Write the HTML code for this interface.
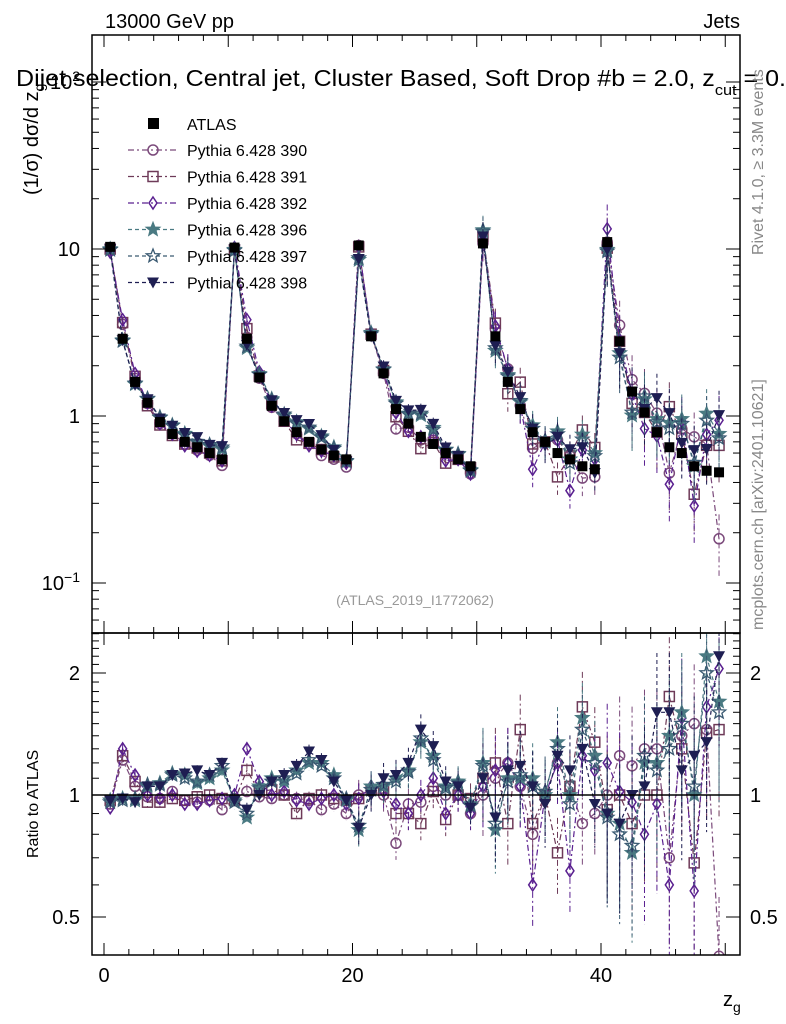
<!DOCTYPE html>
<html><head><meta charset="utf-8"><style>
body{margin:0;background:#fff;}
svg{display:block;font-family:"Liberation Sans",sans-serif;}
</style></head><body>
<svg id="chart" width="786" height="1024" viewBox="0 0 786 1024">
<defs>
<clipPath id="cm"><rect x="92" y="35" width="648" height="598"/></clipPath>
<clipPath id="cr"><rect x="92" y="633" width="648" height="322"/></clipPath>
</defs>
<g id="main" clip-path="url(#cm)"></g>
<g id="ratio" clip-path="url(#cr)"></g>
<g id="axes"></g>
<text x="105" y="28" font-size="20">13000 GeV pp</text>
<text x="740" y="28" font-size="20" text-anchor="end">Jets</text>
<text x="16" y="86" font-size="23" textLength="770" lengthAdjust="spacingAndGlyphs">Dijet selection, Central jet, Cluster Based, Soft Drop #b = 2.0, z<tspan font-size="15" dy="9">cut</tspan><tspan dy="-9"> = 0.</tspan></text>
<text transform="translate(38,195) rotate(-90)" font-size="20">(1/σ) dσ/d z<tspan font-size="14" dy="6">g</tspan></text>
<text transform="translate(38,858) rotate(-90)" font-size="16">Ratio to ATLAS</text>
<text x="723" y="1006" font-size="20">z<tspan font-size="14" dy="6">g</tspan></text>
<text transform="translate(763,255) rotate(-90)" font-size="16" fill="#888">Rivet 4.1.0, ≥ 3.3M events</text>
<text transform="translate(763,630) rotate(-90)" font-size="16" fill="#888">mcplots.cern.ch [arXiv:2401.10621]</text>
<text x="415" y="605" font-size="14" fill="#999" text-anchor="middle">(ATLAS_2019_I1772062)</text>
<g id="legend"></g>
</svg>
<script>
const atlas=[10.3,2.9,1.6,1.2,0.92,0.78,0.7,0.65,0.6,0.55,
10.2,2.9,1.7,1.15,0.93,0.8,0.7,0.63,0.58,0.55,
10.5,3.0,1.8,1.1,0.9,0.75,0.68,0.6,0.55,0.5,
10.8,3.0,1.6,1.1,0.8,0.7,0.6,0.55,0.5,0.48,
11.0,2.8,1.4,1.05,0.8,0.65,0.6,0.5,0.47,0.46];
const r390=[0.95,1.22,1.05,0.99,0.98,1.02,0.97,0.96,0.97,0.92,0.98,1.02,0.99,0.98,1.0,0.98,0.97,0.92,0.95,0.9,1.0,1.02,1.0,0.76,0.95,0.96,1.05,1.0,1.0,0.9,1.0,1.1,1.2,1.05,0.8,1.0,1.2,1.05,0.85,0.9,1.0,1.25,1.18,1.3,1.3,0.7,1.4,1.5,1.45,0.4];
const r391=[0.97,1.25,1.08,0.96,0.96,0.98,0.97,0.99,1.0,0.98,0.97,1.15,1.02,1.03,1.0,0.9,0.98,1.0,0.98,0.97,0.98,1.03,1.04,0.9,0.9,0.85,1.02,0.87,1.0,0.98,1.1,1.2,0.85,1.45,0.85,1.0,0.72,1.05,1.65,1.35,0.92,1.0,0.85,1.0,1.0,1.75,1.3,0.68,1.42,1.45];
const r392=[0.93,1.3,1.12,1.0,0.98,1.0,0.95,0.95,0.97,0.98,1.0,1.3,1.08,1.0,1.02,0.97,0.95,0.98,1.0,0.95,0.98,1.05,1.02,0.95,0.9,1.0,1.1,0.9,1.0,0.9,1.05,1.15,1.2,1.05,0.6,1.0,1.2,0.65,1.25,1.15,1.2,1.02,0.96,0.8,0.95,0.6,1.55,0.58,1.65,2.05];
const r396=[0.97,0.98,0.97,1.05,1.07,1.13,1.12,1.07,1.1,1.15,0.97,0.88,1.05,1.1,1.08,1.15,1.2,1.2,1.12,0.97,0.82,1.05,1.05,1.1,1.15,1.35,1.25,1.05,1.08,0.95,1.2,0.82,1.1,1.1,1.1,1.0,1.35,1.0,1.55,1.25,0.9,0.85,0.72,1.2,1.2,1.4,1.6,1.0,2.2,1.7];
const r397=[0.96,0.97,0.98,1.06,1.06,1.12,1.1,1.08,1.12,1.18,0.96,0.9,1.04,1.08,1.1,1.13,1.22,1.18,1.1,0.98,0.84,1.03,1.06,1.08,1.14,1.38,1.22,1.04,1.07,0.94,1.18,0.85,1.08,1.12,1.05,1.02,1.3,0.95,1.45,1.2,0.88,0.8,0.75,1.25,1.15,1.3,1.5,1.05,2.0,1.6];
const r398=[0.97,0.98,0.96,1.05,1.05,1.12,1.13,1.15,1.12,1.2,0.97,0.92,1.0,1.08,1.12,1.18,1.28,1.22,1.08,0.97,0.83,1.0,1.1,1.12,1.2,1.45,1.32,1.08,1.05,0.93,1.1,0.88,1.15,1.18,1.05,0.95,1.25,1.15,1.3,0.95,0.9,0.85,1.0,1.05,1.6,1.6,1.15,1.25,1.35,2.2];
const segErr=[0.03,0.04,0.09,0.22,0.4];
const names=["Pythia 6.428 390","Pythia 6.428 391","Pythia 6.428 392","Pythia 6.428 396","Pythia 6.428 397","Pythia 6.428 398"];
const xTicks=[0,20,40];

const NS="http://www.w3.org/2000/svg";
function X(v){return 104+12.425*v;}
function Y(v){return 249-167*(Math.log10(v)-1);}
function R(v){return 795-122*Math.log2(v);}
function mk(tag,at,par){const e=document.createElementNS(NS,tag);for(const k in at)e.setAttribute(k,at[k]);par.appendChild(e);return e;}
const main=document.getElementById('main'),ratio=document.getElementById('ratio'),axes=document.getElementById('axes'),leg=document.getElementById('legend');
const series=[
{r:r390,c:"#7b4a7b",m:"circle",d:"6,3,2,3"},
{r:r391,c:"#6e3a58",m:"square",d:"6,3,2,3"},
{r:r392,c:"#5a2090",m:"diamond",d:"6,3,2,3"},
{r:r396,c:"#4a7a82",m:"starf",d:"4,3"},
{r:r397,c:"#3a5a72",m:"staro",d:"4,3"},
{r:r398,c:"#1e1e52",m:"tri",d:"4,3"}];
function marker(p,x,y,s){
 let e;
 if(s.m==="circle")e=mk('circle',{cx:x,cy:y,r:5,fill:'none',stroke:s.c,'stroke-width':1.5},p);
 else if(s.m==="square")e=mk('rect',{x:x-5,y:y-5,width:10,height:10,fill:'none',stroke:s.c,'stroke-width':1.5},p);
 else if(s.m==="diamond")e=mk('polygon',{points:`${x},${y-6} ${x+4},${y} ${x},${y+6} ${x-4},${y}`,fill:'none',stroke:s.c,'stroke-width':1.5},p);
 else if(s.m==="tri")e=mk('polygon',{points:`${x-6},${y-5} ${x+6},${y-5} ${x},${y+6}`,fill:s.c},p);
 else{let pts=[];for(let k=0;k<10;k++){const a=-Math.PI/2+k*Math.PI/5,rr=k%2?3:7;pts.push((x+rr*Math.cos(a)).toFixed(1)+','+(y+rr*Math.sin(a)).toFixed(1));}
  e=mk('polygon',{points:pts.join(' '),fill:s.m==="starf"?s.c:'none',stroke:s.c,'stroke-width':1.3},p);}
 return e;
}
series.forEach((s,si)=>{
 const gm=mk('g',{},main);
 const gr=mk('g',{},ratio);
 let pm=[],pr=[];
 atlas.forEach((a,i)=>{const v=a*s.r[i];pm.push(X(i+0.5).toFixed(1)+','+Y(v).toFixed(1));pr.push(X(i+0.5).toFixed(1)+','+R(s.r[i]).toFixed(1));});
 mk('polyline',{points:pm.join(' '),fill:'none',stroke:s.c,'stroke-width':1.2,'stroke-dasharray':s.d},gm);
 mk('polyline',{points:pr.join(' '),fill:'none',stroke:s.c,'stroke-width':1.2,'stroke-dasharray':s.d},gr);
 atlas.forEach((a,i)=>{
  const v=a*s.r[i],e=segErr[Math.floor(i/10)],x=X(i+0.5);
  mk('line',{x1:x,x2:x,y1:Y(v*(1+e)),y2:Y(Math.max(v*(1-e),1e-3)),stroke:s.c,'stroke-width':1,'stroke-dasharray':s.d},gm);
  mk('line',{x1:x,x2:x,y1:R(s.r[i]*(1+e)),y2:R(Math.max(s.r[i]*(1-e),1e-3)),stroke:s.c,'stroke-width':1,'stroke-dasharray':s.d},gr);
  const m1=marker(gm,x,Y(v),s);
  const m2=marker(gr,x,R(s.r[i]),s);
 });
});
const ga=mk('g',{},main);
atlas.forEach((a,i)=>{const r=mk('rect',{x:X(i+0.5)-5,y:Y(a)-5,width:10,height:10,fill:'#000'},ga);});
const rl=mk('line',{x1:92,x2:740,y1:R(1),y2:R(1),stroke:'#000','stroke-width':1.5},ratio);
[[35,598],[633,322]].forEach(([y,h])=>{const f=mk('rect',{x:92,y:y,width:648,height:h,fill:'none',stroke:'#000','stroke-width':1.5},axes);});
for(let v=0;v<=50;v+=2){const maj=v%10===0,L=maj?12:6;
 [[633,-1],[955,-1],[633,1],[35,1]].forEach(([y,d])=>{mk('line',{x1:X(v),x2:X(v),y1:y,y2:y+(d<0?-L:L),stroke:'#000','stroke-width':1},axes);});}
xTicks.forEach(v=>{const t=mk('text',{x:X(v),y:982,'font-size':20,'text-anchor':'middle'},axes);t.textContent=v;});
for(let d=-2;d<=2;d++)for(let k=1;k<10;k++){const v=k*Math.pow(10,d),y=Y(v);if(y<35||y>633)continue;const L=k===1?14:7;
 mk('line',{x1:92,x2:92+L,y1:y,y2:y,stroke:'#000'},axes);mk('line',{x1:740,x2:740-L,y1:y,y2:y,stroke:'#000'},axes);}
[["10",10],["1",1]].forEach(([s,v])=>{const t=mk('text',{x:80,y:Y(v)+7,'font-size':20,'text-anchor':'end'},axes);t.textContent=s;});
[[-1,0.1],[2,100]].forEach(([e,v])=>{const t=mk('text',{x:80,y:Y(v)+7,'font-size':20,'text-anchor':'end'},axes);t.innerHTML='10<tspan font-size="14" dy="-8">'+(e<0?'−1':'2')+'</tspan>';});
[0.4,0.5,0.6,0.7,0.8,0.9,1,1.1,1.2,1.3,1.4,1.5,1.6,1.7,1.8,1.9,2,2.1,2.2,2.3,2.4,2.5].forEach(v=>{const y=R(v);if(y<633||y>955)return;const maj=[0.5,1,2].includes(v);const L=maj?14:7;
 mk('line',{x1:92,x2:92+L,y1:y,y2:y,stroke:'#000'},axes);mk('line',{x1:740,x2:740-L,y1:y,y2:y,stroke:'#000'},axes);});
[["2",2],["1",1],["0.5",0.5]].forEach(([s,v])=>{[[80,'end'],[750,'start']].forEach(([x,a])=>{const t=mk('text',{x:x,y:R(v)+7,'font-size':20,'text-anchor':a},axes);t.textContent=s;});});
const lr=mk('rect',{x:148,y:118,width:11,height:11,fill:'#000'},leg);
const lt=mk('text',{x:187,y:130,'font-size':16},leg);lt.textContent="ATLAS";
series.forEach((s,i)=>{const y=150+i*26.5;
 mk('line',{x1:128,x2:176,y1:y,y2:y,stroke:s.c,'stroke-width':1.2,'stroke-dasharray':s.d},leg);
 marker(leg,153,y,s);
 const t=mk('text',{x:187,y:y+6,'font-size':16},leg);t.textContent=names[i];
 
 });
</script>
</body></html>
